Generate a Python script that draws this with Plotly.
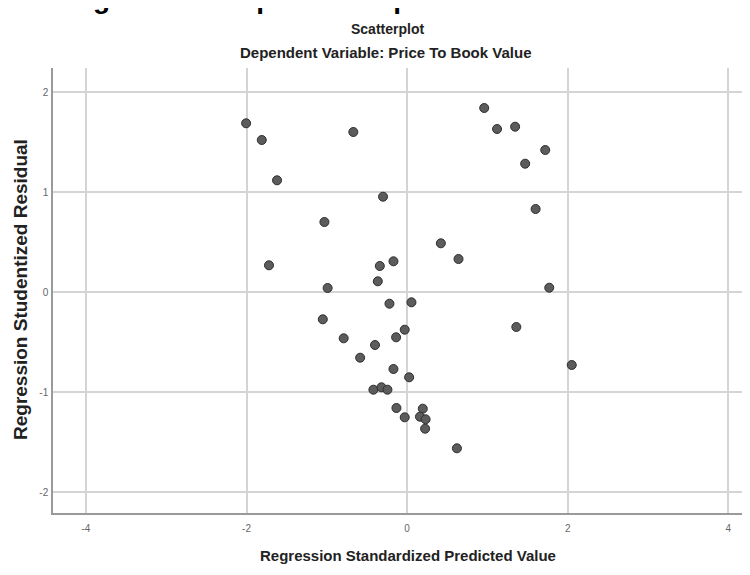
import plotly.graph_objects as go

# Regression Standardized Predicted Value (x) and Studentized Residual (y)
pred_x = [-2.005, -1.81, -0.67, -1.62, 0.96, 1.12, 1.345, 1.72, 1.47, -0.30,
          1.60, -1.03, 0.42, 0.64, -1.72, -0.34, -0.17, -0.365, -0.99, 1.77,
          -0.22, 0.054, -1.05, -0.79, -0.40, -0.137, -0.03, 1.36, -0.585, 2.05,
          -0.17, 0.025, -0.42, -0.32, -0.245, -0.133, -0.03, 0.195, 0.16, 0.23,
          0.224, 0.62]
resid_y = [1.687, 1.52, 1.60, 1.117, 1.84, 1.63, 1.653, 1.42, 1.283, 0.953,
           0.83, 0.70, 0.487, 0.33, 0.267, 0.26, 0.307, 0.107, 0.04, 0.043,
           -0.117, -0.103, -0.273, -0.463, -0.53, -0.453, -0.377, -0.35, -0.657, -0.73,
           -0.77, -0.853, -0.977, -0.953, -0.977, -1.16, -1.253, -1.167, -1.247, -1.273,
           -1.367, -1.563]

x_ticks = [-4, -2, 0, 2, 4]
y_ticks = [-2, -1, 0, 1, 2]

title_main = "Scatterplot"
title_sub = "Dependent Variable: Price To Book Value"
x_title = "Regression Standardized Predicted Value"
y_title = "Regression Studentized Residual"
doc_caption = "Figure 4.2 Graph Scatterplot"

narrow = "Liberation Sans Narrow, Arial Narrow, Liberation Sans, Arial"

# figure geometry (page offset of 8px from body margin is compensated)
W, H = 742, 567
L, T, B, R = 45, 60, 62, 0
PW, PH = W - L - R, H - T - B


def px(xf):
    return (xf - L) / PW


def py(yf):
    return (H - B - yf) / PH


fig = go.Figure()
fig.add_trace(go.Scatter(
    x=pred_x, y=resid_y, mode="markers",
    marker=dict(size=9, color="#5c5c5c", line=dict(color="#2e2e2e", width=1)),
    showlegend=False, hoverinfo="x+y",
))

grid = "#d4d4d4"
fig.update_layout(
    width=W, height=H,
    margin=dict(l=L, r=R, t=T, b=B),
    paper_bgcolor="white", plot_bgcolor="white",
    xaxis=dict(range=[-4.41, 4.27], tickvals=x_ticks, ticktext=[str(v) for v in x_ticks],
               showgrid=True, gridcolor=grid, gridwidth=1.5, zeroline=False,
               showline=True, linecolor="#9a9a9a", linewidth=1.5,
               ticks="", ticklabelstandoff=5,
               tickfont=dict(family="Liberation Sans, Arial", size=10, color="#666666"),
               fixedrange=True),
    yaxis=dict(range=[-2.21, 2.24], tickvals=y_ticks, ticktext=[str(v) for v in y_ticks],
               showgrid=True, gridcolor=grid, gridwidth=1.5, zeroline=False,
               showline=True, linecolor="#9a9a9a", linewidth=1.5,
               ticks="", ticklabelstandoff=1,
               tickfont=dict(family="Liberation Sans, Arial", size=10, color="#666666"),
               fixedrange=True),
    annotations=[
        dict(text="<b>" + title_main + "</b>", xref="paper", yref="paper",
             x=px(379), y=py(21), xanchor="center", yanchor="middle",
             showarrow=False, font=dict(family=narrow, size=14, color="#222222")),
        dict(text="<b>" + title_sub + "</b>", xref="paper", yref="paper",
             x=px(377), y=py(45), xanchor="center", yanchor="middle",
             showarrow=False, font=dict(family=narrow, size=15, color="#222222")),
        dict(text="<b>" + x_title + "</b>", xref="paper", yref="paper",
             x=px(400), y=py(547), xanchor="center", yanchor="middle",
             showarrow=False, font=dict(family=narrow, size=15, color="#222222")),
        dict(text="<b>" + y_title + "</b>", xref="paper", yref="paper",
             x=px(12), y=py(282), xanchor="center", yanchor="middle",
             textangle=-90, showarrow=False,
             font=dict(family="Liberation Sans, Arial", size=19, color="#222222")),
        dict(text="<b>" + doc_caption + "</b>", xref="paper", yref="paper",
             x=px(58), y=py(-10), xanchor="left", yanchor="middle",
             showarrow=False, font=dict(family="Liberation Sans, Arial", size=28, color="#000000")),
    ],
)

fig.write_html("out.html")
